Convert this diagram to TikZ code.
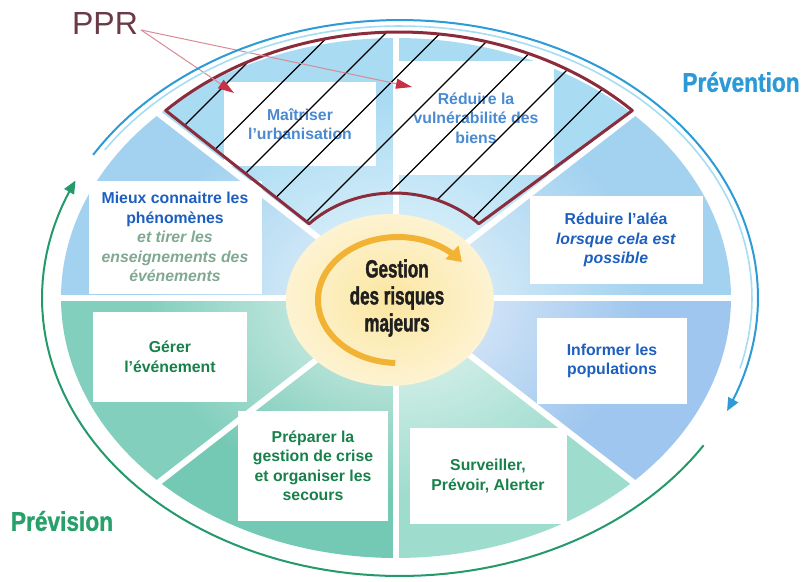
\documentclass[tikz,border=0pt]{standalone}
\usepackage{fontspec}
\setmainfont{Liberation Sans}
\newfontfamily\condfont[FakeStretch=0.68,FakeBold=1.5]{Liberation Sans}
\newfontfamily\bigfont[FakeStretch=0.84,FakeBold=1]{Liberation Sans}
\usetikzlibrary{arrows.meta,fadings}
\definecolor{blueA}{HTML}{A9DBF3}
\definecolor{blueB}{HTML}{A3D2F0}
\definecolor{blueC}{HTML}{9EC6EE}
\definecolor{tealA}{HTML}{9EDCCE}
\definecolor{tealB}{HTML}{74C9B4}
\definecolor{tealC}{HTML}{82CFBD}
\definecolor{bluetxt}{HTML}{1D5FC0}
\definecolor{bluetxtl}{HTML}{4A8AD2}
\definecolor{greentxt}{HTML}{18804A}
\definecolor{fadetxt}{HTML}{80A892}
\definecolor{pprred}{HTML}{8B2C3C}
\definecolor{pprtxt}{HTML}{6A3A46}
\definecolor{pprarrow}{HTML}{C83246}
\definecolor{pprline}{HTML}{D98A94}
\definecolor{arcblue}{HTML}{2D9BD5}
\definecolor{arcbluel}{HTML}{A6DDF3}
\definecolor{arcgreen}{HTML}{24996A}
\definecolor{prevblue}{HTML}{2B9AD6}
\definecolor{prevgreen}{HTML}{27A06A}
\definecolor{yelin}{HTML}{FBE6A0}
\definecolor{yelout}{HTML}{FDF3D2}
\definecolor{orangeA}{HTML}{F2B233}
\tikzfading[name=centerfade, inner color=transparent!20, outer color=transparent!100]
\newcommand{\discsector}[3]{\fill[#3] (396,298) -- plot[domain=#1:#2,samples=40] ({396+335*cos(\x)},{298-260*sin(\x)}) -- cycle;}
\begin{document}
\begin{tikzpicture}[x=1pt,y=-1pt,
  box/.style={fill=white, inner sep=0pt, align=center, font=\bfseries\fontsize{15.8}{19.5}\selectfont},
  sep/.style={white, line width=6pt},
  hatchline/.style={black, line width=1.3pt},
  pprborder/.style={pprred, line width=3pt, line join=round},
  pprarr/.style={pprline, line width=1pt, -{Triangle[length=16pt,width=10pt,color=pprarrow]}},
  bigword/.style={font=\bigfont\bfseries\fontsize{27}{27}\selectfont},
  centertxt/.style={font=\condfont\bfseries\fontsize{25}{27}\selectfont, text=black!88, align=center}
]
\useasboundingbox (0,0) rectangle (805,581);
\fill[white] (0,0) rectangle (805,581);

% sectors of the disc
\discsector{90}{135}{blueA}
\discsector{45}{90}{blueA}
\discsector{0}{45}{blueB}
\discsector{-45}{0}{blueC}
\discsector{-90}{-45}{tealA}
\discsector{-135}{-90}{tealB}
\discsector{180}{225}{tealC}
\discsector{135}{180}{blueB}

% pale centre
\fill[white, path fading=centerfade] (396,298) ellipse [x radius=250, y radius=200];

% white separators
\foreach \a in {0,45,...,315}
  \draw[sep] (396,298) -- ({396+345*cos(\a)},{298-268*sin(\a)});

% boxes
\node[box, minimum width=152pt, minimum height=84pt, text=bluetxtl] (mait) at (300,124) {Maîtriser\\l'urbanisation};
\node[box, minimum width=156pt, minimum height=114pt, text=bluetxtl] (vuln) at (476,118) {Réduire la\\vulnérabilité des\\biens};
\node[box, minimum width=173pt, minimum height=113pt, text=bluetxt] (mieux) at (175,237) {Mieux connaitre les\\phénomènes\\{\color{fadetxt}\itshape et tirer les}\\{\color{fadetxt}\itshape enseignements des}\\{\color{fadetxt}\itshape événements}};
\node[box, minimum width=173pt, minimum height=88pt, text=bluetxt] (alea) at (616,240) {Réduire l'aléa\\\textit{lorsque cela est}\\\textit{possible}};
\node[box, minimum width=150pt, minimum height=86pt, text=bluetxt] (info) at (612,361) {Informer les\\populations};
\node[box, minimum width=157pt, minimum height=96pt, text=greentxt] (surv) at (488,476) {Surveiller,\\Prévoir, Alerter};
\node[box, minimum width=150pt, minimum height=110pt, text=greentxt] (prep) at (313,466) {Préparer la\\gestion de crise\\et organiser les\\secours};
\node[box, minimum width=154pt, minimum height=90pt, text=greentxt] (gerer) at (170,357) {Gérer\\l'événement};

% centre
\shade[inner color=yelin, outer color=yelout] (390,300) ellipse [x radius=104, y radius=86];
\draw[orangeA, line width=6pt, {Triangle[length=14pt,width=18pt]}-] plot[domain=37:268,samples=70] ({398+80*cos(\x)},{300-63*sin(\x)});
\node[centertxt] (centre) at (397,298) {Gestion\\des risques\\majeurs};

% PPR zone
\begin{scope}
  \clip plot[domain=135:45,samples=60] ({399+330*cos(\x)},{300-268*sin(\x)}) -- plot[domain=45:135,samples=40] ({394+120*cos(\x)},{298-105*sin(\x)}) -- cycle;
  \foreach \k in {0,...,7}
    \draw[hatchline] ({310+54.5*\k-300},300) -- ({310+54.5*\k},0);
\end{scope}
\draw[pprborder] plot[domain=135:45,samples=60] ({399+330*cos(\x)},{300-268*sin(\x)}) -- plot[domain=45:135,samples=40] ({394+120*cos(\x)},{298-105*sin(\x)}) -- cycle;

\node[text=pprtxt, font=\fontsize{32}{32}\selectfont, inner sep=0pt] (ppr) at (105,23) {PPR};
\coordinate (t1) at (234,93);
\coordinate (t2) at (412,87);
\draw[pprarr] ([xshift=3pt,yshift=-7pt]ppr.east) -- (t1);
\draw[pprarr] ([xshift=3pt,yshift=-7pt]ppr.east) -- (t2);

% outer cycle arcs
\draw[arcbluel, line width=1.6pt] plot[domain=-15:147,samples=90] ({400+352*cos(\x)},{298-272*sin(\x)});
\draw[arcblue, line width=2pt, {Triangle[length=13pt,width=11pt]}-] plot[domain=-24:149,samples=90] ({400+358*cos(\x)},{298-278*sin(\x)});
\draw[arcgreen, line width=2pt, {Triangle[length=13pt,width=11pt]}-] plot[domain=-205:-32,samples=90] ({400+358*cos(\x)},{298-278*sin(\x)});

\node[bigword, text=prevblue] (prevention) at (741,82) {Prévention};
\node[bigword, text=prevgreen] (prevision) at (62,521) {Prévision};
\end{tikzpicture}
\end{document}
